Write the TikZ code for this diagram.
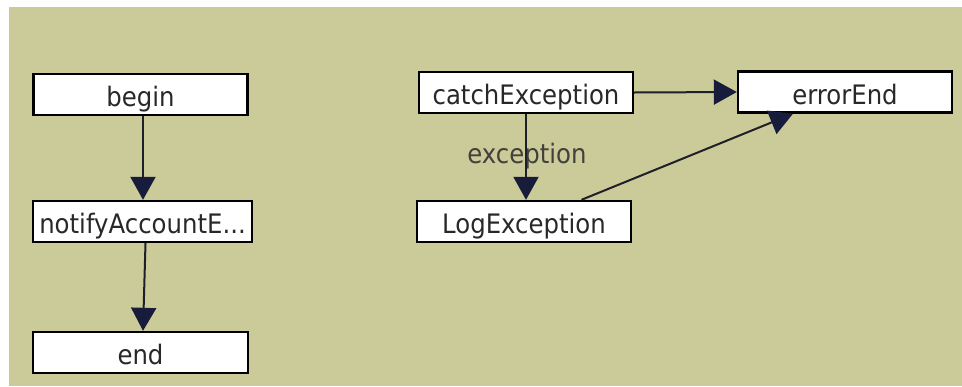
\documentclass[tikz,border=0pt]{standalone}
\usepackage{fontspec}
\setmainfont{DejaVu Sans}
\newfontfamily\diagfont[FakeStretch=0.91]{DejaVu Sans}
\usetikzlibrary{arrows.meta}

\definecolor{canvas}{RGB}{203,202,153}
\definecolor{tipfill}{RGB}{22,28,58}
\definecolor{edgeline}{RGB}{30,32,40}
\definecolor{boxtext}{RGB}{40,40,40}
\definecolor{labeltext}{RGB}{64,64,60}

\tikzset{
  statebox/.style={draw=black, line width=2.4pt, fill=white, rectangle,
    minimum width=214pt, minimum height=41pt, inner sep=0pt,
    text height=24pt, text depth=0pt, text=boxtext,
    font=\diagfont\fontsize{26.8}{31}\selectfont},
  flow/.style={draw=edgeline, line width=2pt,
    -{Triangle[width=25pt,length=23pt,fill=tipfill,color=tipfill]}},
  flowlabel/.style={text=labeltext, inner sep=0pt,
    font=\diagfont\fontsize{26.8}{31}\selectfont}
}

\begin{document}
\begin{tikzpicture}[x=1pt,y=-1pt]
  % canvas with thin white margin on top and left
  \fill[white] (0,0) rectangle (962,386);
  \fill[canvas] (9,7) rectangle (962,386);
  \useasboundingbox (0,0) rectangle (962,386);

  % left flow
  \node[statebox] (begin) at (140.5,94.5) {begin};
  \node[statebox, minimum width=219pt] (notify) at (142.5,221.5) {notifyAccountE...};
  \node[statebox, minimum width=215pt] (end) at (140.5,352.5) {end};

  % right flow
  \node[statebox] (catch) at (526,92.5) {catchException};
  \node[statebox] (log) at (524,221.5) {LogException};
  \node[statebox] (errend) at (845,92) {errorEnd};

  \draw[flow] ([xshift=2.5pt]begin.south) -- ([xshift=0.5pt]notify.north);
  \draw[flow] ([xshift=3pt]notify.south) -- ([xshift=2.5pt]end.north);

  \node[flowlabel] (exclabel) at (527,156) {exception};
  \draw[flow] (catch.south) -- ([xshift=2pt]log.north);
  \draw[flow] (catch.east) -- (errend.west);
  \draw[flow] ([xshift=57.5pt]log.north) -- ([xshift=-52pt]errend.south);
\end{tikzpicture}
\end{document}
